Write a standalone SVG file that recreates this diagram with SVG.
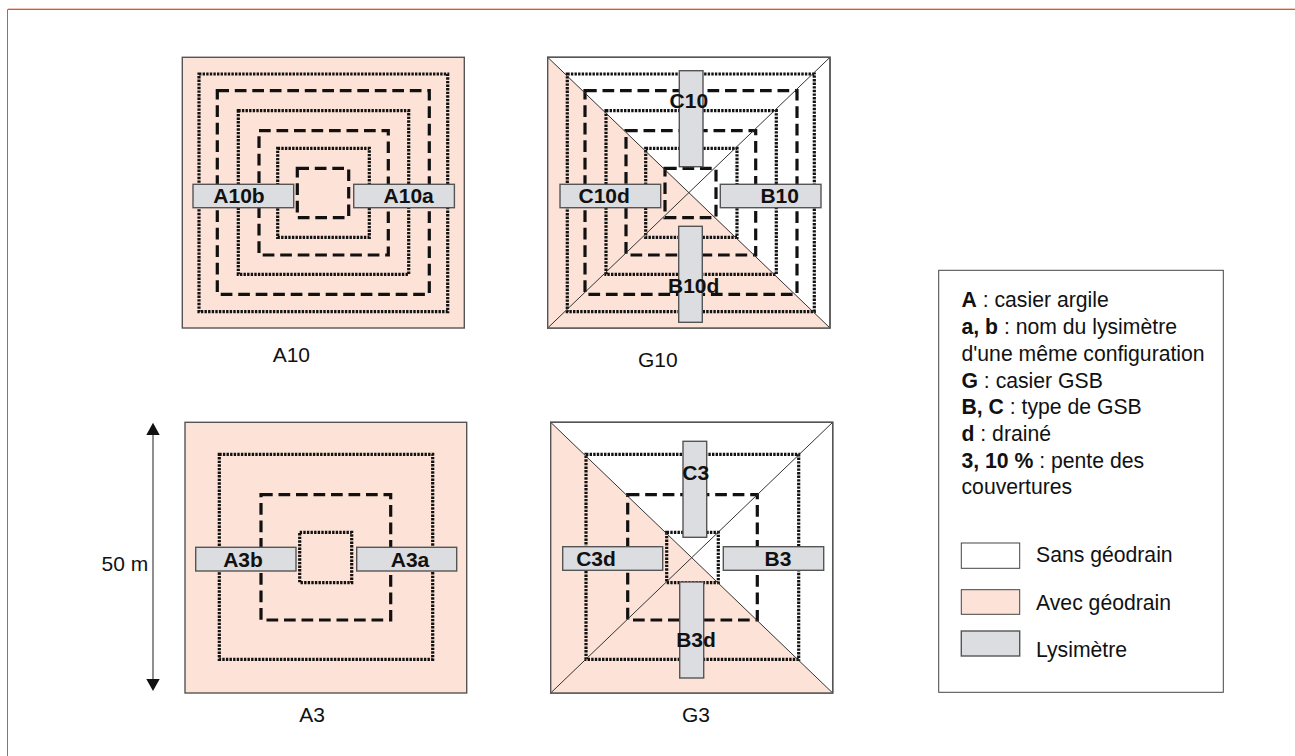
<svg xmlns="http://www.w3.org/2000/svg" width="1295" height="756" viewBox="0 0 1295 756">
<defs>
<style>
text{font-family:"Liberation Sans",Arial,sans-serif;fill:#111}
.cap{font-size:21px}
.lab{font-size:21px;font-weight:700;text-anchor:middle}
.leg{font-size:21.2px}
.box{stroke:#555;stroke-width:1.4}
.peach{fill:#fde3d7}
.white{fill:#fff}
.ly{fill:#dcdde0;stroke:#555;stroke-width:1.4}
.dot{fill:none;stroke:#111;stroke-width:3.2;stroke-dasharray:2.4 1.2}
.dash{fill:none;stroke:#111;stroke-width:3.2;stroke-dasharray:11.7 5.8}
.diag{stroke:#333;stroke-width:1;fill:none}
</style>
</defs>
<rect width="1295" height="756" fill="#fff"/>
<g id="frame"><path d="M8 8.5H1295" fill="none" stroke="#f6c4b6" stroke-width="1"/><path d="M7.5 756V9.5H1295" fill="none" stroke="#d9553c" stroke-width="1"/></g>

<g id="A10">
<rect class="box peach" x="182.3" y="57.3" width="282" height="270.7"/>
<rect class="dot" x="199" y="74" width="248.7" height="237.7"/>
<rect class="dash" x="217.3" y="90.7" width="212" height="203.6"/>
<rect class="dot" x="238.3" y="110.7" width="170.4" height="163.6"/>
<rect class="dash" x="259" y="130.7" width="129.3" height="124.3"/>
<rect class="dot" x="277.7" y="148.3" width="91.6" height="89"/>
<rect class="dash" x="297.3" y="168.3" width="51.4" height="49.4"/>
<rect class="ly" x="193" y="184.3" width="100.7" height="23.4"/>
<rect class="ly" x="353.7" y="184.3" width="100.7" height="23.4"/>
<text class="lab" x="239" y="203">A10b</text>
<text class="lab" x="408.7" y="203">A10a</text>
<text class="cap" x="272.7" y="362.3">A10</text>
</g>

<g id="G10">
<rect class="box white" x="547.7" y="57.3" width="282.3" height="270.7"/>
<path class="peach" d="M547.7 57.3L690 192.7L830 328H547.7Z"/>
<rect class="dot" x="567.3" y="74" width="247" height="237.7"/>
<rect class="dash" x="585" y="90.7" width="212" height="203.6"/>
<rect class="dot" x="606" y="110.7" width="170.3" height="163.6"/>
<rect class="dash" x="626" y="130.7" width="129.7" height="124.3"/>
<rect class="dot" x="645.7" y="148.3" width="91.3" height="89"/>
<rect class="dash" x="665" y="168.3" width="51" height="49.4"/>
<path class="diag" d="M547.7 57.3L830 328M830 57.3L547.7 328"/>
<rect class="box" fill="none" x="547.7" y="57.3" width="282.3" height="270.7"/>
<rect class="ly" x="679.3" y="70.7" width="23.7" height="96"/>
<rect class="ly" x="678.7" y="226.3" width="23.6" height="96"/>
<rect class="ly" x="560" y="184.3" width="100.7" height="23.4"/>
<rect class="ly" x="720.3" y="184.3" width="100.7" height="23.4"/>
<text class="lab" x="688.8" y="107.8">C10</text>
<text class="lab" x="693.7" y="292.8">B10d</text>
<text class="lab" x="604.2" y="203">C10d</text>
<text class="lab" x="779.7" y="203">B10</text>
<text class="cap" x="638" y="367">G10</text>
</g>

<g id="A3">
<rect class="box peach" x="185" y="422.3" width="281.7" height="270.7"/>
<rect class="dot" x="219.3" y="454.3" width="213.4" height="205"/>
<rect class="dash" x="261" y="494.7" width="129.7" height="125.3"/>
<rect class="dot" x="299.7" y="532.3" width="52" height="50.4"/>
<rect class="ly" x="195.7" y="547.3" width="100.3" height="23.7"/>
<rect class="ly" x="356.7" y="547.3" width="100" height="23.7"/>
<text class="lab" x="243" y="566.5">A3b</text>
<text class="lab" x="410" y="566.5">A3a</text>
<text class="cap" x="299.3" y="722.3">A3</text>
</g>

<g id="G3">
<rect class="box white" x="550.7" y="422.3" width="282" height="270.7"/>
<path class="peach" d="M550.7 422.3L692 557.7L832.7 693H550.7Z"/>
<rect class="dot" x="586" y="454.3" width="212.7" height="205"/>
<rect class="dash" x="627.7" y="494.7" width="129.6" height="125.3"/>
<rect class="dot" x="666.7" y="532.3" width="51.6" height="50.4"/>
<path class="diag" d="M550.7 422.3L832.7 693M832.7 422.3L550.7 693"/>
<rect class="box" fill="none" x="550.7" y="422.3" width="282" height="270.7"/>
<rect class="ly" x="683" y="441.3" width="23.7" height="96"/>
<rect class="ly" x="679.7" y="582" width="24" height="96"/>
<rect class="ly" x="562.7" y="546.7" width="100" height="23.6"/>
<rect class="ly" x="723.3" y="546.7" width="100.4" height="23.6"/>
<text class="lab" x="695.8" y="480">C3</text>
<text class="lab" x="696" y="646.7">B3d</text>
<text class="lab" x="596" y="566">C3d</text>
<text class="lab" x="778" y="566">B3</text>
<text class="cap" x="682" y="722.3">G3</text>
</g>

<g id="dimension">
<path d="M153 435V679" stroke="#444" stroke-width="1.2" fill="none"/>
<path d="M153 422.7L146.3 435H159.7ZM153 691L146.3 679H159.7Z" fill="#111"/>
<text class="cap" x="101.5" y="570.7">50 m</text>
</g>

<g id="legend">
<rect x="938.7" y="270.3" width="284.6" height="422" fill="#fff" stroke="#444" stroke-width="1"/>
<text class="leg" x="961.5" y="307.2"><tspan font-weight="700">A</tspan> : casier argile</text>
<text class="leg" x="961.5" y="334"><tspan font-weight="700">a, b</tspan> : nom du lysimètre</text>
<text class="leg" x="961.5" y="360.8">d'une même configuration</text>
<text class="leg" x="961.5" y="387.5"><tspan font-weight="700">G</tspan> : casier GSB</text>
<text class="leg" x="961.5" y="414.2"><tspan font-weight="700">B, C</tspan> : type de GSB</text>
<text class="leg" x="961.5" y="441"><tspan font-weight="700">d</tspan> : drainé</text>
<text class="leg" x="961.5" y="467.5"><tspan font-weight="700">3, 10 %</tspan> : pente des</text>
<text class="leg" x="961.5" y="494.2">couvertures</text>
<rect x="961.3" y="543" width="58.4" height="25.3" fill="#fff" stroke="#444" stroke-width="1"/>
<rect x="961.3" y="589.7" width="58.4" height="24.6" class="peach" stroke="#444" stroke-width="1"/>
<rect class="ly" x="961.3" y="631" width="58.4" height="25"/>
<text class="leg" x="1036" y="562.2">Sans géodrain</text>
<text class="leg" x="1036" y="610.2">Avec géodrain</text>
<text class="leg" x="1036" y="657.2">Lysimètre</text>
</g>
</svg>
